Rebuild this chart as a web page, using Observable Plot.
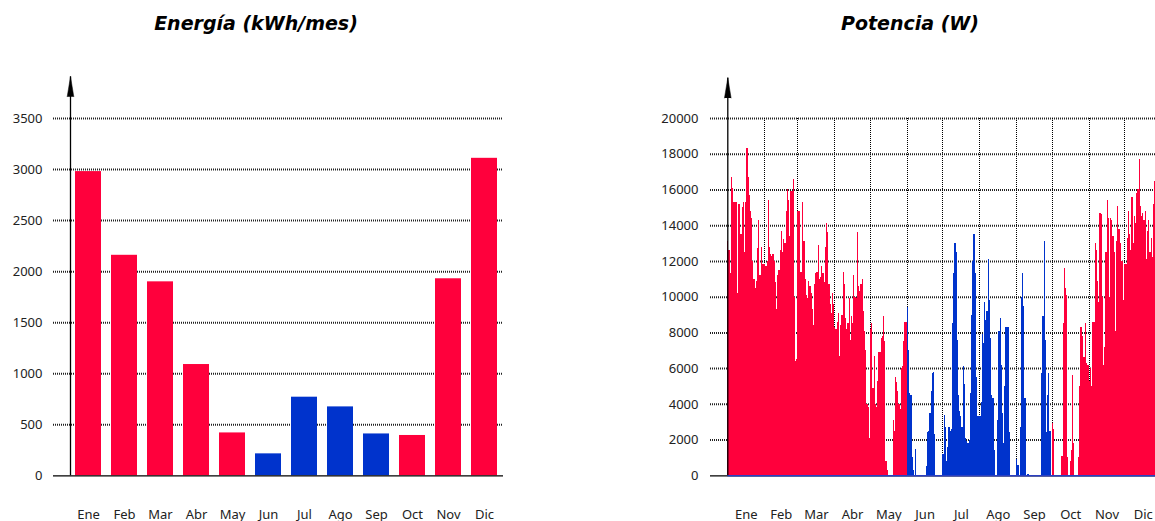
<!DOCTYPE html>
<html><head><meta charset="utf-8">
<script src="https://cdn.jsdelivr.net/npm/d3@7"></script>
<script src="https://cdn.jsdelivr.net/npm/@observablehq/plot@0.6"></script>
<style>
html, body { margin:0; padding:0; overflow:hidden; background:#fff; width:1155px; height:521px; }
#wrap { position:relative; width:1155px; height:521px; overflow:hidden; background:#fff; }
.title { position:absolute; top:14px; width:400px; text-align:center; font-family:"DejaVu Sans", sans-serif; font-style:italic; font-weight:bold; font-size:19px; line-height:19px; color:#000; white-space:nowrap; }
.chart { position:absolute; top:60px; }
</style></head><body>
<div id="wrap">
  <div class="title" style="left:56px">Energía (kWh/mes)</div>
  <div class="title" style="left:710px">Potencia (W)</div>
  <div class="chart" id="c1" style="left:0;width:520px"></div>
  <div class="chart" id="c2" style="left:640px;width:522px"></div>
</div>
<script>
// ---------- data ----------
const meses = ["Ene","Feb","Mar","Abr","May","Jun","Jul","Ago","Sep","Oct","Nov","Dic"];
const energia = [2980, 2160, 1900, 1090, 420, 215, 770, 675, 410, 395, 1930, 3110];
const modo = ["cal","cal","cal","cal","cal","ref","ref","ref","ref","cal","cal","cal"];
const colores = {cal: "#ff003c", ref: "#0033cc"};
const ticksEnergia = [0, 500, 1000, 1500, 2000, 2500, 3000, 3500];
const ticksPotencia = [0, 2000, 4000, 6000, 8000, 10000, 12000, 14000, 16000, 18000, 20000];
const diasMes = [31, 28, 31, 30, 31, 30, 31, 31, 30, 31, 30, 31];

// daily peak power (W)
const potEne = [13100, 12600, 11300, 16700, 16100, 15300, 15300, 15300, 10200, 15200, 15200, 13500, 15000, 15300, 12500, 15300, 18300, 16700, 15700, 14800, 14400, 12000, 11000, 10500, 10900, 12700, 14300, 11200, 12800, 11800, 11800];
const potFeb = [11800, 11700, 12000, 15400, 12800, 12400, 12300, 12400, 12000, 10800, 9300, 11200, 11500, 12600, 13700, 12500, 13200, 13000, 14800, 16000, 15400, 13400, 15900, 15900, 16600, 10000, 6400, 6500];
const potMar = [14800, 14800, 11400, 11400, 15300, 13100, 11000, 10100, 9900, 10900, 10600, 10200, 9300, 8400, 10700, 11300, 11400, 12900, 11000, 11100, 11700, 11300, 10800, 12800, 14100, 13600, 10700, 9600, 9100, 10200, 9600];
const potAbr = [8300, 8200, 8600, 9100, 6700, 8400, 9000, 11400, 10700, 8800, 8200, 8500, 9900, 7600, 8900, 8500, 11200, 10000, 9900, 13600, 10600, 10300, 10700, 11000, 9200, 8100, 7000, 4000, 3800, 2100];
const potMay = [8200, 8500, 4900, 6700, 4000, 3800, 5300, 6900, 6900, 7700, 7800, 8900, 7500, 800, 300, 0, 0, 0, 0, 3100, 2500, 5500, 5200, 4700, 4000, 3700, 6000, 6100, 7500, 8600, 8600];
const potJun = [9400, 7000, 4600, 4500, 1000, 300, 0, 1500, 0, 0, 0, 0, 0, 0, 0, 0, 500, 2400, 2500, 3500, 4700, 5700, 5800, 2300, 0, 0, 0, 0, 0, 0];
const potJul = [1200, 3400, 2700, 800, 1600, 2700, 2500, 2600, 8500, 11300, 13000, 12500, 7600, 4500, 3600, 3300, 2700, 6100, 5100, 2100, 1900, 1800, 2000, 4600, 9000, 12000, 13500, 11300, 5500, 3300, 3300];
const potAgo = [3300, 4100, 7900, 7400, 9700, 8700, 9200, 12100, 9800, 7700, 4500, 4300, 1400, 0, 0, 3100, 8100, 8800, 6200, 3500, 1800, 5000, 8300, 8300, 8300, 2400, 0, 0, 0, 0, 0];
const potSep = [900, 600, 0, 2700, 10000, 11300, 9500, 4300, 0, 100, 100, 0, 0, 0, 0, 0, 0, 0, 0, 0, 0, 5700, 8900, 13100, 7600, 2400, 4500, 5700, 2500, 0];
const potOct = [2900, 2600, 0, 0, 0, 0, 0, 0, 1100, 8500, 11600, 10500, 10100, 1000, 0, 800, 1400, 5600, 1800, 0, 0, 0, 1000, 5000, 8300, 7800, 6600, 6600, 8500, 6300, 6200];
const potNov = [5300, 6000, 5000, 8600, 8600, 13000, 12600, 10900, 9700, 14700, 14600, 10000, 6200, 7200, 12500, 15400, 14400, 10000, 14400, 14300, 13400, 12500, 8100, 13100, 15100, 13800, 13000, 12000, 12000, 9800];
const potDic = [11800, 11800, 13300, 14800, 13500, 12600, 15600, 13000, 14500, 14100, 15800, 16000, 17700, 15100, 14500, 14700, 14300, 14800, 12100, 13700, 14300, 12500, 13300, 12200, 15200, 16500];

// ---------- derived tables ----------
const potMeses = [potEne, potFeb, potMar, potAbr, potMay, potJun, potJul, potAgo, potSep, potOct, potNov, potDic];
const inicioMes = diasMes.map((_, i) => d3.sum(diasMes.slice(0, i)));
const mitadMes = diasMes.map((n, i) => inicioMes[i] + n / 2);
const diasAnio = d3.sum(diasMes);
const barras = meses.map((m, i) => ({mes: m, energia: energia[i], modo: modo[i]}));
const dias = potMeses.flatMap((arr, m) => arr.map((v, d) => ({dia: inicioMes[m] + d, pot: v, modo: modo[m]})));

const yRange = [415.3, 58];
const gridH = {stroke: "#222", strokeWidth: 2, strokeDasharray: "1,1"};
const gridV = {stroke: "#000", strokeWidth: 1, strokeDasharray: "1,1", shapeRendering: "crispEdges"};
const numFmt = d => String(d);
const baseStyle = {fontFamily: "'Noto Sans', sans-serif", fontSize: "13px", color: "#222", background: "white", maxWidth: "none", overflow: "hidden"};

// ---------- left chart: energy ----------
const xRange1 = [70, 502];
const half1 = -(xRange1[1] - xRange1[0]) / meses.length / 2;
const ejeE = 3910;
const c1 = Plot.plot({
  width: 520, height: 461,
  marginLeft: 53, marginRight: 17, marginTop: 58, marginBottom: 46,
  style: baseStyle,
  x: {domain: meses, range: xRange1, paddingInner: 0.28, paddingOuter: 0.14},
  y: {domain: [0, 3500], range: yRange},
  marks: [
    Plot.ruleY(ticksEnergia.slice(1), gridH),
    Plot.barY(barras, {x: "mes", y: "energia", fill: d => colores[d.modo]}),
    Plot.ruleY([0], {stroke: "#000", strokeWidth: 1.2}),
    Plot.ruleX([meses[0]], {y1: 0, y2: ejeE, dx: half1, stroke: "#000", strokeWidth: 1.3}),
    Plot.vector([meses[0]], {x: d => d, y: ejeE, dx: half1, shape: "spike", anchor: "end", length: 20, r: 3.3, fill: "#000", stroke: "#000", strokeWidth: 0.5}),
    Plot.axisY({ticks: ticksEnergia, tickFormat: numFmt, tickSize: 0, tickPadding: 11, fontSize: 13, label: null}),
    Plot.axisX({tickSize: 0, tickPadding: 34, fontSize: 13, label: null})
  ]
});
document.getElementById("c1").append(c1);

// ---------- right chart: power ----------
const ejeP = 22270;
const c2 = Plot.plot({
  width: 522, height: 461,
  marginLeft: 70, marginRight: 0, marginTop: 58, marginBottom: 46,
  style: baseStyle,
  x: {domain: [0, diasAnio], range: [87.3, 521.2]},
  y: {domain: [0, 20000], range: yRange},
  marks: [
    Plot.ruleY(ticksPotencia.slice(1), gridH),
    Plot.ruleX(inicioMes.slice(1), {y1: 0, y2: 20000, ...gridV}),
    Plot.rectY(dias, {x1: "dia", x2: d => d.dia + 1, y: "pot", fill: d => colores[d.modo], shapeRendering: "crispEdges"}),
    Plot.ruleY([0], {stroke: "#000", strokeWidth: 1.2}),
    Plot.ruleY([0], {x1: 0, x2: diasAnio, stroke: "#2b3fc2", strokeWidth: 1.5}),
    Plot.ruleX([0], {y1: 0, y2: ejeP, stroke: "#000", strokeWidth: 1.3}),
    Plot.vector([0], {x: d => d, y: ejeP, shape: "spike", anchor: "end", length: 20, r: 3.3, fill: "#000", stroke: "#000", strokeWidth: 0.5}),
    Plot.axisY({ticks: ticksPotencia, tickFormat: numFmt, tickSize: 0, tickPadding: 12, fontSize: 13, label: null}),
    Plot.axisX(mitadMes, {tickSize: 0, tickPadding: 34, fontSize: 13, label: null, tickFormat: d => meses[mitadMes.indexOf(d)]})
  ]
});
document.getElementById("c2").append(c2);
</script>
</body></html>
